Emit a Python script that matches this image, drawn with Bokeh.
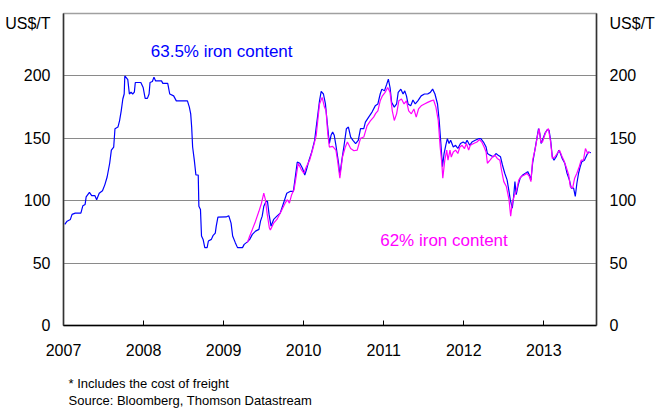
from bokeh.plotting import figure
from bokeh.models import LinearAxis, FixedTicker, Label, Range1d, ColumnDataSource, Title
from bokeh.embed import file_html
from bokeh.resources import INLINE

# ---- data (decimal year, US$ per tonne) ----
year_tick_values = [2007, 2008, 2009, 2010, 2011, 2012, 2013]
price_tick_values = [0, 50, 100, 150, 200]

iron635_year = [
    2007.016, 2007.045, 2007.086, 2007.107, 2007.147, 2007.217, 2007.242, 2007.270, 2007.283, 2007.324,
    2007.352, 2007.393, 2007.414, 2007.446, 2007.487, 2007.516, 2007.545, 2007.577, 2007.598, 2007.627,
    2007.643, 2007.680, 2007.700, 2007.721, 2007.741, 2007.758, 2007.766, 2007.803, 2007.823, 2007.844,
    2007.864, 2007.885, 2007.897, 2007.966, 2007.995, 2008.020, 2008.048, 2008.069, 2008.081, 2008.110,
    2008.130, 2008.151, 2008.224, 2008.241, 2008.302, 2008.327, 2008.376, 2008.409, 2008.548, 2008.572,
    2008.589, 2008.601, 2008.613, 2008.634, 2008.654, 2008.683, 2008.691, 2008.711, 2008.724, 2008.744,
    2008.765, 2008.794, 2008.810, 2008.847, 2008.867, 2008.896, 2008.908, 2008.929, 2009.031, 2009.064,
    2009.093, 2009.113, 2009.146, 2009.174, 2009.236, 2009.257, 2009.297, 2009.326, 2009.359, 2009.399,
    2009.441, 2009.461, 2009.482, 2009.502, 2009.531, 2009.548, 2009.568, 2009.592, 2009.625, 2009.666,
    2009.707, 2009.748, 2009.789, 2009.830, 2009.871, 2009.891, 2009.920, 2009.952, 2009.985, 2010.014,
    2010.034, 2010.067, 2010.096, 2010.137, 2010.157, 2010.178, 2010.198, 2010.219, 2010.247, 2010.272,
    2010.292, 2010.321, 2010.342, 2010.362, 2010.382, 2010.403, 2010.436, 2010.452, 2010.477, 2010.505,
    2010.534, 2010.559, 2010.587, 2010.616, 2010.649, 2010.682, 2010.710, 2010.751, 2010.771, 2010.812,
    2010.854, 2010.894, 2010.927, 2010.956, 2010.977, 2011.009, 2011.038, 2011.058, 2011.079, 2011.099,
    2011.132, 2011.161, 2011.181, 2011.214, 2011.242, 2011.263, 2011.284, 2011.304, 2011.337, 2011.365,
    2011.394, 2011.426, 2011.468, 2011.509, 2011.549, 2011.582, 2011.611, 2011.640, 2011.672, 2011.693,
    2011.714, 2011.734, 2011.754, 2011.775, 2011.795, 2011.816, 2011.836, 2011.869, 2011.898, 2011.926,
    2011.959, 2011.992, 2012.021, 2012.041, 2012.074, 2012.102, 2012.143, 2012.184, 2012.213, 2012.246,
    2012.279, 2012.295, 2012.328, 2012.369, 2012.402, 2012.430, 2012.459, 2012.483, 2012.512, 2012.541,
    2012.565, 2012.581, 2012.606, 2012.623, 2012.639, 2012.655, 2012.680, 2012.704, 2012.737, 2012.770,
    2012.799, 2012.819, 2012.839, 2012.860, 2012.888, 2012.909, 2012.934, 2012.950, 2012.966, 2012.983,
    2013.016, 2013.044, 2013.065, 2013.085, 2013.106, 2013.127, 2013.155, 2013.188, 2013.208, 2013.229,
    2013.262, 2013.290, 2013.319, 2013.343, 2013.372, 2013.393, 2013.413, 2013.434, 2013.454, 2013.474,
    2013.507, 2013.536, 2013.556, 2013.589,
]
iron635_usd = [
    81, 83.6, 85, 89, 90, 90, 96, 97, 103, 106.6,
    104, 104, 100.8, 106, 108, 112.7, 119, 130, 140.5, 143,
    157.7, 159, 164, 172, 181.5, 185.5, 200, 197, 185.5, 187,
    185.5, 187, 194.7, 194.7, 190.7, 182, 182, 185.5, 194.7, 195.5,
    199, 196, 196, 194, 194, 185.5, 184, 180, 180, 175,
    169.6, 159, 143, 132.5, 120.6, 120.6, 95.5, 93, 71.7, 69,
    62.4, 62.4, 67.7, 69, 72, 74, 79.6, 86.8, 87, 88,
    82, 71.7, 66.4, 62.4, 62.4, 65, 67, 69, 73, 75.6,
    77, 83.6, 87.6, 95.5, 99.5, 99.5, 89, 79.6, 85, 87.6,
    90, 98, 106, 107.4, 107.4, 116.7, 131, 130, 126, 120.6,
    124.6, 132.5, 138, 148.4, 159, 169.6, 180, 187.6, 185.5, 177.5,
    164.3, 145.8, 152.4, 155, 152.4, 144.4, 130, 120.6, 132.5, 144.4,
    157.7, 159, 151, 148.4, 145.8, 148.4, 157.7, 157.7, 163, 167,
    171, 176, 177.5, 185.5, 189.4, 188, 193.4, 197.4, 190.7, 178.8,
    175, 177.5, 186.8, 189.4, 185.5, 188, 184, 177.5, 176, 180.7,
    177.5, 180, 184, 185.5, 185.5, 186.8, 189.4, 185.5, 177.5, 164.3,
    145.8, 127.2, 137.8, 144.4, 149.7, 145.8, 148.4, 143, 144.4, 141.8,
    145.8, 147, 145.8, 148.4, 144.4, 147, 148.4, 149.7, 149.7, 147,
    143, 137.8, 136.5, 135.2, 137.8, 136.5, 135.2, 128.6, 122, 116.7,
    107.4, 100.8, 94, 103.4, 115.3, 104.8, 112.7, 118, 120.6, 122,
    123.3, 120.6, 116.7, 130, 140.5, 148.4, 157.7, 153.7, 145.8, 148.4,
    154.2, 157, 156.5, 148.4, 135.2, 132.5, 135.2, 140.5, 137.8, 133.9,
    130, 122, 116.7, 110, 110, 103.4, 114, 122, 127.2, 131.2,
    132.5, 136.5, 139, 138.4,
]

iron62_year = [
    2009.297, 2009.326, 2009.359, 2009.399, 2009.441, 2009.473, 2009.502, 2009.522, 2009.543, 2009.571,
    2009.584, 2009.625, 2009.666, 2009.707, 2009.768, 2009.797, 2009.822, 2009.850, 2009.879, 2009.903,
    2009.932, 2009.973, 2010.002, 2010.034, 2010.075, 2010.116, 2010.157, 2010.198, 2010.231, 2010.260,
    2010.280, 2010.301, 2010.321, 2010.362, 2010.403, 2010.423, 2010.452, 2010.485, 2010.518, 2010.546,
    2010.587, 2010.628, 2010.669, 2010.710, 2010.751, 2010.792, 2010.833, 2010.874, 2010.900, 2010.927,
    2010.956, 2010.984, 2011.017, 2011.050, 2011.079, 2011.107, 2011.132, 2011.161, 2011.189, 2011.222,
    2011.254, 2011.284, 2011.312, 2011.345, 2011.377, 2011.406, 2011.435, 2011.468, 2011.509, 2011.549,
    2011.591, 2011.623, 2011.652, 2011.681, 2011.705, 2011.726, 2011.738, 2011.763, 2011.787, 2011.803,
    2011.828, 2011.844, 2011.869, 2011.898, 2011.926, 2011.951, 2011.979, 2012.009, 2012.033, 2012.061,
    2012.082, 2012.123, 2012.164, 2012.197, 2012.225, 2012.254, 2012.279, 2012.295, 2012.328, 2012.360,
    2012.389, 2012.418, 2012.451, 2012.471, 2012.500, 2012.532, 2012.565, 2012.586, 2012.606, 2012.635,
    2012.655, 2012.688, 2012.717, 2012.758, 2012.786, 2012.819, 2012.839, 2012.860, 2012.893, 2012.921,
    2012.942, 2012.962, 2012.983, 2013.024, 2013.057, 2013.085, 2013.106, 2013.139, 2013.167, 2013.196,
    2013.220, 2013.249, 2013.278, 2013.311, 2013.331, 2013.360, 2013.385, 2013.413, 2013.442, 2013.467,
    2013.495, 2013.520, 2013.548, 2013.577,
]
iron62_usd = [
    66.4, 71.7, 77, 83.6, 91.5, 98, 106, 100.8, 90, 78.3,
    76.5, 82, 85, 90, 98, 100.8, 98, 104.8, 108.7, 118,
    130, 124.6, 122, 127.2, 132.5, 141.8, 152.4, 177.5, 182.8, 175,
    172, 153.7, 143, 143.5, 140.5, 132.5, 118, 135, 142.6, 147,
    141.8, 140, 140.5, 150, 151, 160, 164, 167, 170, 172,
    180, 184, 186.8, 190.7, 186.8, 172, 164.3, 169.6, 180, 181.5,
    177.5, 180, 172, 169.6, 173.5, 167, 173.5, 176, 177.5, 178.8,
    180, 180.7, 175, 164.3, 143, 130, 118, 132.5, 140.5, 132.5,
    140.5, 135, 139, 140.5, 137.8, 143, 144.4, 141.8, 145.8, 140.5,
    144.4, 145.8, 147, 149, 147, 143, 139, 130, 132.5, 135.2,
    136.5, 133.9, 132.5, 124.6, 115.3, 111.3, 100.8, 87.6, 98, 104.8,
    107.4, 116.7, 119.4, 120.6, 122, 119.4, 115.3, 132.5, 141.8, 152.4,
    157.7, 147, 147, 155, 157.7, 147, 133.9, 135.2, 137.8, 140.5,
    136.5, 132.5, 127.2, 120.6, 111.3, 110, 118, 122, 127.2, 132.5,
    132.5, 141.8, 137.8, 139,
]

label_635 = "63.5% iron content"
label_62 = "62% iron content"
unit_label = "US$/T"
footnote_1 = "* Includes the cost of freight"
footnote_2 = "Source: Bloomberg, Thomson Datastream"

# ---- figure ----
FONT = "Liberation Sans"
X_START, X_END = 2007.0, 2013.658
UNIT_POS = 242  # axis position where the unit label sits (top of each axis)

p = figure(
    width=657, height=408,
    output_backend="svg", toolbar_location=None,
    x_range=Range1d(X_START, X_END), y_range=Range1d(0, 250),
    min_border_left=63, min_border_right=52, min_border_top=13, min_border_bottom=83,
    background_fill_color="white", border_fill_color="white",
)
p.outline_line_color = "#a0a0a0"
p.outline_line_width = 1.5

# x axis
xa = p.xaxis[0]
xa.ticker = FixedTicker(ticks=year_tick_values)
xa.major_tick_in = 5
xa.major_tick_out = 0
xa.minor_tick_line_color = None
xa.axis_line_color = "black"
xa.axis_line_width = 1.5
xa.major_tick_line_color = "black"
xa.major_tick_line_width = 1
xa.major_label_standoff = 18
xa.major_label_text_font = FONT
xa.major_label_text_font_size = "16px"
xa.major_label_text_color = "black"

# y axes (left and right), with the unit label at the top
ya = p.yaxis[0]
yr = LinearAxis()
p.add_layout(yr, "right")
for ax in (ya, yr):
    ax.ticker = FixedTicker(ticks=price_tick_values + [UNIT_POS])
    ax.major_label_overrides = {UNIT_POS: unit_label}
    ax.major_tick_in = 0
    ax.major_tick_out = 0
    ax.minor_tick_line_color = None
    ax.axis_line_color = "#333333"
    ax.axis_line_width = 1.5
    ax.major_label_standoff = 13
    ax.major_label_text_font = FONT
    ax.major_label_text_font_size = "16px"
    ax.major_label_text_color = "black"

p.xgrid.grid_line_color = None
p.ygrid.ticker = FixedTicker(ticks=price_tick_values)
p.ygrid.grid_line_color = "#8a8a8a"
p.ygrid.grid_line_width = 1

# series
src635 = ColumnDataSource(dict(x=iron635_year, y=iron635_usd))
src62 = ColumnDataSource(dict(x=iron62_year, y=iron62_usd))
p.line("x", "y", source=src635, line_color="#0000FF", line_width=1.2)
p.line("x", "y", source=src62, line_color="#FF00FF", line_width=1.2)

# in-plot annotations
p.add_layout(Label(x=2008.09, y=219.6, text=label_635, text_font=FONT, text_font_size="17px",
                   text_color="#0000FF", text_align="left", text_baseline="middle"))
p.add_layout(Label(x=2010.956, y=68.4, text=label_62, text_font=FONT, text_font_size="17px",
                   text_color="#FF00FF", text_align="left", text_baseline="middle"))

# footnotes below the axis: a thin spacer panel, then the two note lines
spacer = Title(text=" ", align="left", standoff=12, text_font=FONT, text_font_size="1px")
t1 = Title(text=footnote_1, align="left", offset=5, standoff=0,
           text_font=FONT, text_font_size="13px", text_font_style="normal", text_color="black")
t2 = Title(text=footnote_2, align="left", offset=5, standoff=0,
           text_font=FONT, text_font_size="13px", text_font_style="normal", text_color="black")
p.add_layout(spacer, "below")
p.add_layout(t1, "below")
p.add_layout(t2, "below")

open("out.html", "w").write(file_html(p, INLINE))
